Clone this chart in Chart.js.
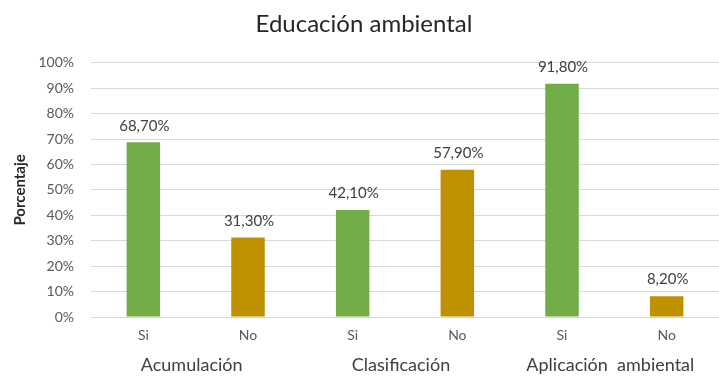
<!DOCTYPE html>
<html>
<head>
<meta charset="utf-8">
<script src="https://cdn.jsdelivr.net/npm/chart.js@4/dist/chart.umd.min.js"></script>
<style>
  html, body { margin: 0; padding: 0; background: #fff; }
  #wrap { width: 719px; height: 376px; }
</style>
</head>
<body>
<div id="wrap"><canvas id="chart" width="719" height="376"></canvas></div>
<script>
'use strict';

/* ---------- data ---------- */
const answers     = ['Si', 'No', 'Si', 'No', 'Si', 'No'];
const groups      = ['Acumulación', 'Clasificación', 'Aplicación  ambiental'];
const percentages = [68.7, 31.3, 42.1, 57.9, 91.8, 8.2];
const barColors   = ['#70AD47', '#BF9000', '#70AD47', '#BF9000', '#70AD47', '#BF9000'];

const FONT = 'Lato, "Open Sans", sans-serif';

/* value labels above each bar, Spanish decimal comma */
const valueLabels = {
  id: 'valueLabels',
  afterDatasetsDraw(chart) {
    const ctx = chart.ctx;
    const meta = chart.getDatasetMeta(0);
    ctx.save();
    ctx.font = '15px ' + FONT;
    ctx.fillStyle = '#404040';
    ctx.textAlign = 'center';
    ctx.textBaseline = 'bottom';
    meta.data.forEach((bar, i) => {
      const txt = percentages[i].toFixed(2).replace('.', ',') + '%';
      ctx.fillText(txt, bar.x + 1, bar.y - 9);
    });
    ctx.restore();
  }
};

new Chart(document.getElementById('chart'), {
  type: 'bar',
  data: {
    labels: answers,
    datasets: [{
      data: percentages,
      backgroundColor: barColors,
      barPercentage: 0.32,
      categoryPercentage: 1.0
    }]
  },
  options: {
    responsive: false,
    animation: false,
    layout: { padding: { left: 9, right: 0, top: 6, bottom: 0 } },
    plugins: {
      legend: { display: false },
      tooltip: { enabled: false },
      title: {
        display: true,
        text: 'Educación ambiental',
        color: '#262626',
        font: { family: FONT, size: 24, weight: 'normal' },
        padding: { top: 4, bottom: 24 }
      }
    },
    scales: {
      x: {
        afterFit(scale) { scale.height = 29; },
        grid: { display: false },
        border: { display: false },
        ticks: { color: '#595959', font: { family: FONT, size: 14 }, padding: 2 }
      },
      x2: {
        type: 'category',
        labels: groups,
        position: 'bottom',
        afterFit(scale) { scale.height = 30; },
        grid: { display: false },
        border: { display: false },
        ticks: { color: '#404040', font: { family: FONT, size: 18 }, padding: 0, labelOffset: -4 }
      },
      y: {
        min: 0,
        max: 100,
        afterFit(scale) { scale.width = 82; },
        ticks: {
          stepSize: 10,
          color: '#595959',
          font: { family: FONT, size: 14 },
          padding: 17,
          callback: v => v + '%'
        },
        grid: { color: '#D9D9D9', drawTicks: false },
        border: { display: false },
        title: {
          display: true,
          text: 'Porcentaje',
          color: '#262626',
          font: { family: FONT, size: 15, weight: 'bold' },
          padding: 2
        }
      }
    }
  },
  plugins: [valueLabels]
});
</script>
</body>
</html>
